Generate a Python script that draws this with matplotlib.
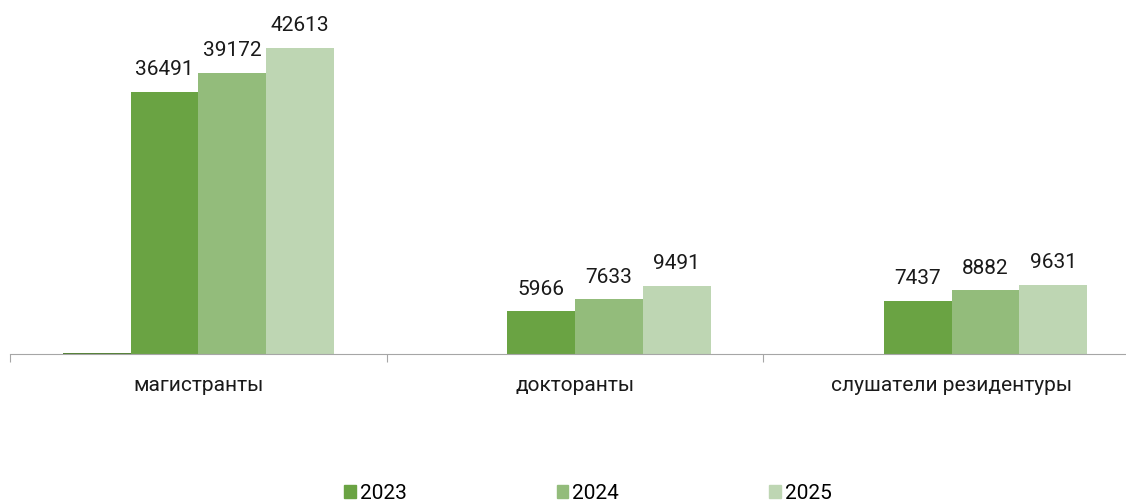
import numpy as np
import matplotlib.pyplot as plt
from matplotlib.patches import Patch

plt.rcParams['font.family'] = ['Roboto', 'DejaVu Sans']

categories = ['магистранты', 'докторанты', 'слушатели резидентуры']
years = ['2023', '2024', '2025']
v_hidden = [120, 0, 0]
v2023 = [36491, 5966, 7437]
v2024 = [39172, 7633, 8882]
v2025 = [42613, 9491, 9631]

colors = ['#6aa343', '#93bc7b', '#bed6b3']

W, H = 1126, 501
fig = plt.figure(figsize=(W / 100, H / 100), dpi=100)
# plot area: left at x=10, baseline at y=354, continues past right edge
ax = fig.add_axes([10 / W, (H - 354) / H, 1130 / W, 344.7 / H])

x = np.arange(len(categories))
bw = 0.18
series = [v_hidden, v2023, v2024, v2025]
offsets = [-1.5, -0.5, 0.5, 1.5]
for k, vals in enumerate(series):
    col = '#548235' if k == 0 else colors[k - 1]
    bars = ax.bar(x + offsets[k] * bw, vals, width=bw, color=col, edgecolor='none')
    if k > 0:
        for b, v in zip(bars, vals):
            ax.text(b.get_x() + b.get_width() / 2, v + 1750, str(v),
                    ha='center', va='bottom', fontsize=15, color='#1a1a1a')

ax.set_xlim(-0.5, len(categories) - 0.5)
ax.set_ylim(0, 48000)
for s in ['top', 'right', 'left']:
    ax.spines[s].set_visible(False)
ax.spines['bottom'].set_color('#a6a6a6')
ax.set_yticks([])
ax.set_xticks(np.arange(len(categories) + 1) - 0.5, minor=False)
ax.set_xticklabels([])
ax.tick_params(axis='x', which='major', length=6, color='#a6a6a6', direction='out')
ax.set_xticks(x, minor=True)
ax.set_xticklabels(categories, minor=True, fontsize=15, color='#1a1a1a')
ax.tick_params(axis='x', which='minor', length=0, pad=15.5)

handles = [Patch(color=c) for c in colors]
fig.legend(handles, years, loc='center', bbox_to_anchor=(588 / W, 1 - 493.5 / H),
           ncol=3, frameon=False, fontsize=15, handlelength=0.55, handleheight=0.55,
           handletextpad=0.2, columnspacing=7.2, borderaxespad=0)

fig.savefig('out.png', dpi=100)
